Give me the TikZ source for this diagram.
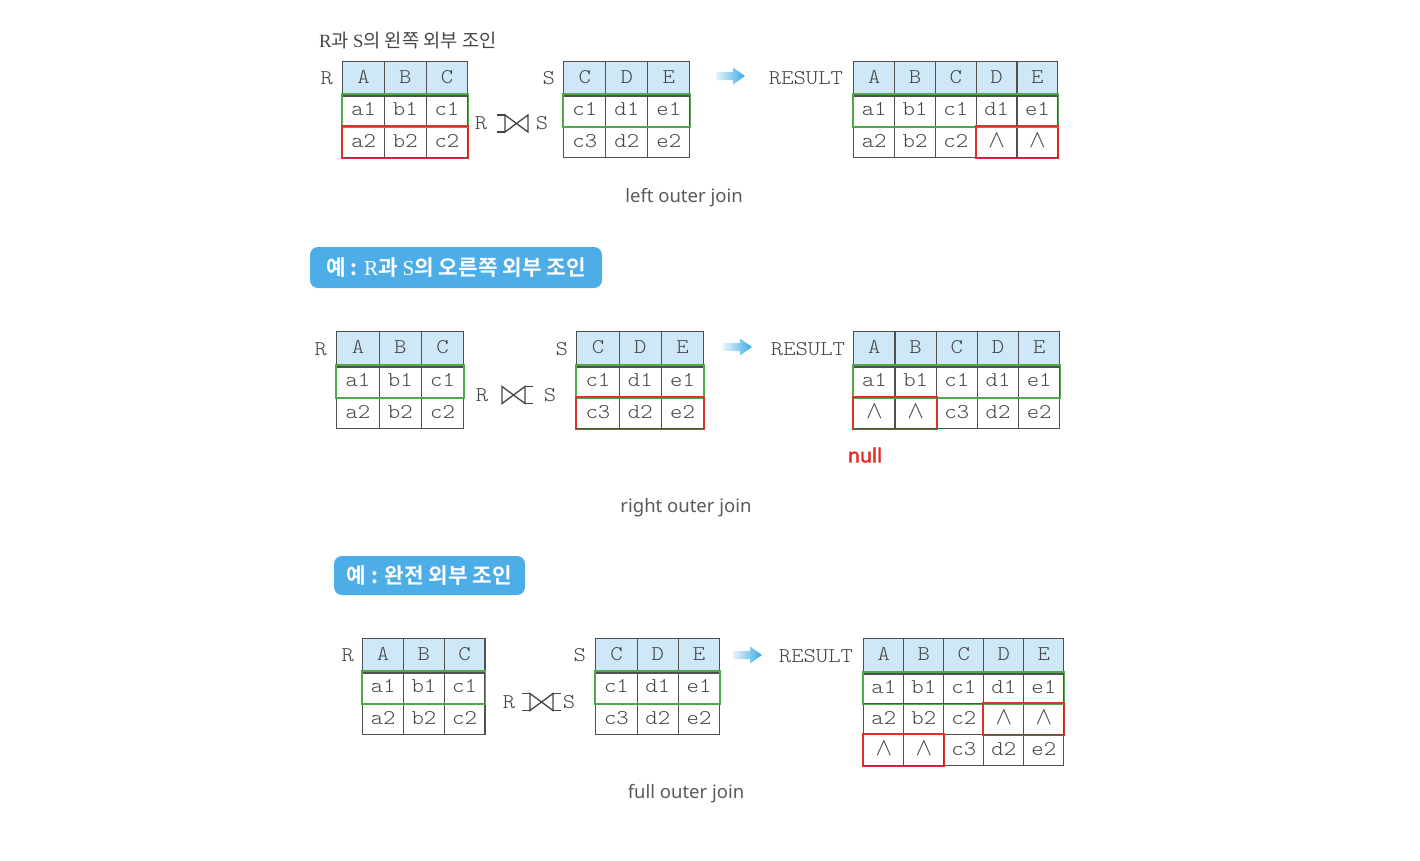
\documentclass[tikz,border=0pt]{standalone}
\usepackage{fontspec}
\setmainfont{Noto Sans}
\newfontfamily\nullf{Noto Sans}[FakeBold=2.2]
\newfontfamily\kr{Noto Sans CJK KR}[BoldFont={Noto Sans CJK KR Bold}]
\newfontfamily\mono{lmmonolt10-regular}[Extension=.otf, FakeStretch=1.12]
\newfontfamily\ser{Liberation Serif}
\newcommand{\nulv}{{\fontsize{25}{25}\selectfont$\wedge$}}
\usetikzlibrary{matrix}
\definecolor{hdr}{HTML}{CFE8F8}
\definecolor{gridc}{HTML}{505050}
\definecolor{txt}{HTML}{454545}
\definecolor{grn}{HTML}{4FA84A}
\definecolor{red1}{HTML}{E0302A}
\definecolor{bbox}{HTML}{4DADE7}
\definecolor{arr}{HTML}{3AA9E6}
\definecolor{cap}{HTML}{5A5A5A}
\tikzset{
  cell/.style={draw=gridc, line width=1.2pt, inner sep=0pt,
    text height=14pt, text depth=4pt,
    font=\mono\fontsize{21}{21}\selectfont, text=txt},
  tab/.style n args={3}{matrix of nodes, inner sep=0pt, matrix anchor=north west,
    column sep=-1.2pt, row sep=-1.2pt, nodes={cell, minimum width=#1, minimum height=#3},
    row 1/.style={nodes={fill=hdr, minimum height=#2}}},
  hline/.style={draw=gridc, line width=2.2pt},
  gbox/.style={draw=grn, line width=1.8pt},
  rbox/.style={draw=red1, line width=1.8pt},
  mlbl/.style={font=\mono\fontsize{21}{21}\selectfont, text=txt, inner sep=0pt},
  caption/.style={font=\fontsize{18.5}{18.5}\selectfont, text=cap, inner sep=0pt},
  ktitle/.style={font=\kr\fontsize{18.7}{18.7}\selectfont, text=txt, inner sep=0pt},
  bluebox/.style={fill=bbox, rounded corners=8pt, text=white, inner sep=0pt,
    font=\kr\bfseries\fontsize{21.3}{21.3}\selectfont},
  jn/.style={draw=gridc!85!black, line width=1.3pt, line join=miter},
  barrow/.pic={\shade[left color=arr!12, right color=arr]
      (0,-4) -- (17,-4) -- (17,-8.5) -- (29,0) -- (17,8.5) -- (17,4) -- (0,4) -- cycle;},
  ljoin/.pic={\draw[jn] (-11.5,-8.5) -- (-11.5,8.5) -- (11.5,-8.5) -- (11.5,8.5) -- cycle;
      \draw[jn] (-19.5,-8.5) -- (-11.5,-8.5) (-19.5,8.5) -- (-11.5,8.5);},
  rjoin/.pic={\draw[jn] (-11.5,-8.5) -- (-11.5,8.5) -- (11.5,-8.5) -- (11.5,8.5) -- cycle;
      \draw[jn] (19.5,-8.5) -- (11.5,-8.5) (19.5,8.5) -- (11.5,8.5);},
  fjoin/.pic={\draw[jn] (-11.5,-8.5) -- (-11.5,8.5) -- (11.5,-8.5) -- (11.5,8.5) -- cycle;
      \draw[jn] (-19.5,-8.5) -- (-11.5,-8.5) (-19.5,8.5) -- (-11.5,8.5)
                (19.5,-8.5) -- (11.5,-8.5) (19.5,8.5) -- (11.5,8.5);},
}
\begin{document}
\begin{tikzpicture}[x=1pt,y=-1pt]
\fill[white] (0,0) rectangle (1420,860);
\useasboundingbox (0,0) rectangle (1420,860);

% ================= top: left outer join
\node[ktitle, anchor=west] (atitle) at (319,41) {{\ser R}과 {\ser S}의 왼쪽 외부 조인};
\matrix (aR) [tab={41.67}{33pt}{31.5pt}] at (342,61) {A & B & C\\ a1 & b1 & c1\\ a2 & b2 & c2\\};
\matrix (aS) [tab={42}{33pt}{31.5pt}] at (563,61) {C & D & E\\ c1 & d1 & e1\\ c3 & d2 & e2\\};
\matrix (aX) [tab={40.8}{33pt}{31.5pt}] at (853,61) {A & B & C & D & E\\ a1 & b1 & c1 & d1 & e1\\ a2 & b2 & c2 & \nulv & \nulv\\};
\draw[hline] (aR-1-1.south west) -- (aR-1-3.south east);
\draw[hline] (aS-1-1.south west) -- (aS-1-3.south east);
\draw[hline] (aX-1-1.south west) -- (aX-1-5.south east);
\node[mlbl, anchor=east] (aRl) at ([xshift=-9pt]aR-1-1.west) {R};
\node[mlbl, anchor=east] (aSl) at ([xshift=-8pt]aS-1-1.west) {S};
\node[mlbl, anchor=east] (aXl) at ([xshift=-10pt]aX-1-1.west) {RESULT};
\draw[gbox] (aR-2-1.north west) rectangle (aR-2-3.south east);
\draw[rbox] (aR-3-1.north west) rectangle (aR-3-3.south east);
\draw[gbox] (aS-2-1.north west) rectangle (aS-2-3.south east);
\draw[gbox] (aX-2-1.north west) rectangle (aX-2-5.south east);
\draw[rbox] (aX-3-4.north west) rectangle (aX-3-5.south east);
\node[mlbl] (ajR) at (481,123) {R};
\pic at (516.5,123.5) {ljoin};
\node[mlbl] (ajS) at (542,123) {S};
\pic at (716,76) {barrow};
\node[caption] (acap) at (684,198) {left outer join};

% ================= middle: right outer join
\node[bluebox, minimum width=292pt, minimum height=41pt] (btitle) at (456,267.5)
  {예 : {\ser\mdseries R}과 {\ser\mdseries S}의 오른쪽 외부 조인};
\matrix (bR) [tab={42.3}{34pt}{31.5pt}] at (336,331) {A & B & C\\ a1 & b1 & c1\\ a2 & b2 & c2\\};
\matrix (bS) [tab={42.3}{34pt}{31.5pt}] at (576,331) {C & D & E\\ c1 & d1 & e1\\ c3 & d2 & e2\\};
\matrix (bX) [tab={41.2}{34pt}{31.5pt}] at (853,331) {A & B & C & D & E\\ a1 & b1 & c1 & d1 & e1\\ \nulv & \nulv & c3 & d2 & e2\\};
\draw[hline] (bR-1-1.south west) -- (bR-1-3.south east);
\draw[hline] (bS-1-1.south west) -- (bS-1-3.south east);
\draw[hline] (bX-1-1.south west) -- (bX-1-5.south east);
\node[mlbl, anchor=east] (bRl) at ([xshift=-9pt]bR-1-1.west) {R};
\node[mlbl, anchor=east] (bSl) at ([xshift=-8pt]bS-1-1.west) {S};
\node[mlbl, anchor=east] (bXl) at ([xshift=-8pt]bX-1-1.west) {RESULT};
\draw[gbox] (bR-2-1.north west) rectangle (bR-2-3.south east);
\draw[gbox] (bS-2-1.north west) rectangle (bS-2-3.south east);
\draw[rbox] (bS-3-1.north west) rectangle (bS-3-3.south east);
\draw[gbox] (bX-2-1.north west) rectangle (bX-2-5.south east);
\draw[rbox] (bX-3-1.north west) rectangle (bX-3-2.south east);
\node[mlbl] (bjR) at (482,395) {R};
\pic at (513.5,395) {rjoin};
\node[mlbl] (bjS) at (550,395) {S};
\pic at (723,347) {barrow};
\node[font=\nullf\fontsize{19.5}{19.5}\selectfont, text=red1, inner sep=0pt] (bnull) at (865,455) {null};
\node[caption] (bcap) at (686,508) {right outer join};

% ================= bottom: full outer join
\node[bluebox, minimum width=191pt, minimum height=39pt] (ctitle) at (429.5,575.5)
  {예 : 완전 외부 조인};
\matrix (cR) [tab={40.7}{33pt}{31.5pt}] at (362,638) {A & B & C\\ a1 & b1 & c1\\ a2 & b2 & c2\\};
\matrix (cS) [tab={41.3}{33pt}{31.5pt}] at (595,638) {C & D & E\\ c1 & d1 & e1\\ c3 & d2 & e2\\};
\matrix (cX) [tab={40}{34pt}{31pt}] at (863,638) {A & B & C & D & E\\ a1 & b1 & c1 & d1 & e1\\ a2 & b2 & c2 & \nulv & \nulv\\ \nulv & \nulv & c3 & d2 & e2\\};
\draw[hline] (cR-1-1.south west) -- (cR-1-3.south east);
\draw[hline] (cS-1-1.south west) -- (cS-1-3.south east);
\draw[hline] (cX-1-1.south west) -- (cX-1-5.south east);
\node[mlbl, anchor=east] (cRl) at ([xshift=-8pt]cR-1-1.west) {R};
\node[mlbl, anchor=east] (cSl) at ([xshift=-9pt]cS-1-1.west) {S};
\node[mlbl, anchor=east] (cXl) at ([xshift=-10pt]cX-1-1.west) {RESULT};
\draw[gbox] (cR-2-1.north west) rectangle (cR-2-3.south east);
\draw[gbox] (cS-2-1.north west) rectangle (cS-2-3.south east);
\draw[gbox] (cX-2-1.north west) rectangle (cX-2-5.south east);
\draw[rbox] (cX-3-4.north west) rectangle (cX-3-5.south east);
\draw[rbox] (cX-4-1.north west) rectangle (cX-4-2.south east);
\node[mlbl] (cjR) at (509,702) {R};
\pic at (541.5,702) {fjoin};
\node[mlbl] (cjS) at (569,702) {S};
\pic at (733,655) {barrow};
\node[caption] (ccap) at (686,794) {full outer join};
\end{tikzpicture}
\end{document}
